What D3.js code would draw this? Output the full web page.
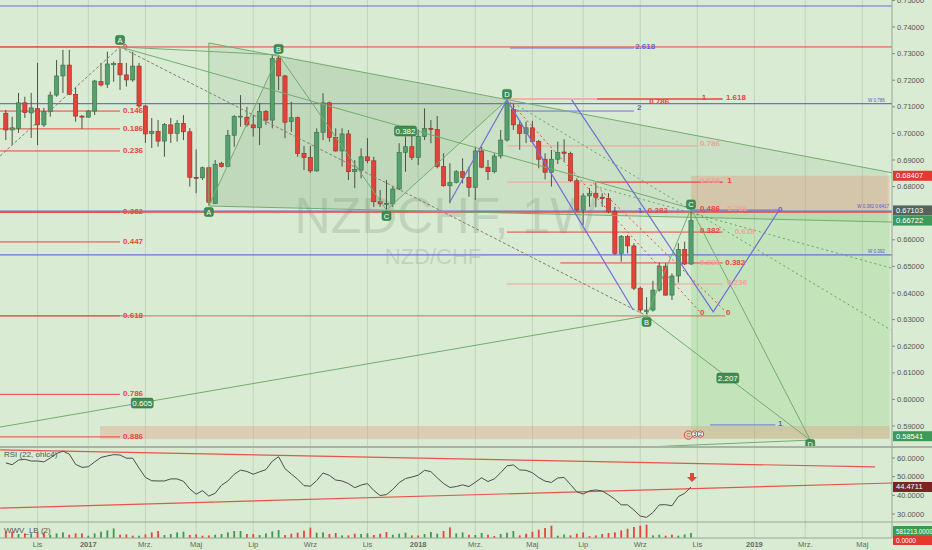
<!DOCTYPE html>
<html><head><meta charset="utf-8">
<script src="https://cdn.jsdelivr.net/npm/d3@7"></script>
<style>
body{margin:0;background:#d9ebd3;}
svg{display:block;font-family:"Liberation Sans",Arial,sans-serif;}
</style></head>
<body><svg id="c" width="932" height="550"></svg>
<script>
// ---------------- DATA (weekly NZD/CHF) ----------------
const firstBar = "2016-10-02"; // weekly bars, one per week
const open = [
0.7076,0.7013,0.7019,0.7115,0.7077,0.7093,0.7032,0.7082,0.7144,0.7216,
0.7257,0.7147,0.7065,0.7061,0.7084,0.7195,0.7185,0.7258,0.7263,0.7220,
0.7201,0.7253,0.7103,0.6999,0.7008,0.6971,0.7032,0.7000,0.7038,0.7006,
0.6835,0.6833,0.6871,0.6737,0.6888,0.6875,0.6993,0.7063,0.7061,0.7032,
0.7021,0.7082,0.7050,0.7281,0.7216,0.7044,0.7059,0.6925,0.6909,0.6859,
0.7004,0.7115,0.6985,0.6934,0.6998,0.6856,0.6862,0.6912,0.6897,0.6743,
0.6735,0.6735,0.6791,0.6929,0.6950,0.6910,0.6988,0.7019,0.7015,0.6875,
0.6803,0.6816,0.6856,0.6835,0.6797,0.6934,0.6873,0.6856,0.6915,0.6975,
0.7090,0.7032,0.7000,0.7021,0.6969,0.6903,0.6854,0.6903,0.6930,0.6925,
0.6822,0.6712,0.6765,0.6775,0.6760,0.6755,0.6706,0.6549,0.6612,0.6577,
0.6418,0.6330,0.6336,0.6411,0.6501,0.6392,0.6464,0.6564,0.6509];
const high = [
0.7088,0.7063,0.7152,0.7138,0.7152,0.7265,0.7096,0.7157,0.7276,0.7314,
0.7314,0.7171,0.7069,0.7088,0.7201,0.7265,0.7307,0.7270,0.7320,0.7265,
0.7307,0.7265,0.7107,0.7058,0.7050,0.7039,0.7058,0.7050,0.7069,0.7020,
0.6940,0.6875,0.6875,0.6900,0.6893,0.7013,0.7069,0.7144,0.7100,0.7069,
0.7114,0.7088,0.7295,0.7295,0.7220,0.7119,0.7063,0.6953,0.6953,0.7019,
0.7151,0.7119,0.7019,0.7019,0.7013,0.6900,0.6944,0.6982,0.6912,0.6787,
0.6825,0.6800,0.6963,0.6988,0.6994,0.7015,0.7094,0.7050,0.7065,0.6925,
0.6888,0.6862,0.6906,0.6875,0.6950,0.6950,0.6900,0.6925,0.7013,0.7122,
0.7113,0.7050,0.7044,0.7047,0.6975,0.6925,0.6938,0.6969,0.6978,0.6931,
0.6831,0.6775,0.6794,0.6815,0.6775,0.6775,0.6724,0.6618,0.6618,0.6587,
0.6424,0.6384,0.6446,0.6514,0.6512,0.6474,0.6587,0.6593,0.6706];
const low = [
0.6975,0.6956,0.7002,0.7058,0.6983,0.6956,0.7024,0.7063,0.7138,0.7152,
0.7144,0.7044,0.7017,0.7060,0.7069,0.7176,0.7171,0.7194,0.7163,0.7176,
0.7194,0.7096,0.6964,0.6945,0.6950,0.6912,0.6964,0.6969,0.6975,0.6800,
0.6775,0.6825,0.6731,0.6735,0.6872,0.6873,0.6950,0.7025,0.7025,0.6988,
0.6956,0.7032,0.7019,0.7163,0.6982,0.7006,0.6912,0.6862,0.6852,0.6856,
0.6975,0.6969,0.6931,0.6875,0.6825,0.6794,0.6831,0.6888,0.6724,0.6724,
0.6712,0.6724,0.6787,0.6856,0.6900,0.6881,0.6975,0.6963,0.6869,0.6800,
0.6737,0.6812,0.6812,0.6762,0.6750,0.6869,0.6825,0.6850,0.6906,0.6969,
0.7013,0.6938,0.6963,0.6963,0.6869,0.6827,0.6800,0.6885,0.6894,0.6818,
0.6706,0.6656,0.6724,0.6722,0.6724,0.6700,0.6543,0.6518,0.6549,0.6411,
0.6326,0.6321,0.6330,0.6405,0.6390,0.6374,0.6439,0.6505,0.6505];
const close = [
0.7013,0.7021,0.7115,0.7078,0.7096,0.7032,0.7082,0.7144,0.7216,0.7257,
0.7147,0.7065,0.7061,0.7084,0.7197,0.7182,0.7261,0.7263,0.7220,0.7201,
0.7253,0.7103,0.6998,0.7008,0.6971,0.7034,0.7000,0.7038,0.7006,0.6835,
0.6831,0.6871,0.6741,0.6884,0.6875,0.6993,0.7063,0.7065,0.7032,0.7021,
0.7082,0.7050,0.7281,0.7216,0.7042,0.7059,0.6925,0.6909,0.6859,0.7004,
0.7115,0.6985,0.6934,0.6998,0.6856,0.6865,0.6912,0.6897,0.6743,0.6735,
0.6737,0.6791,0.6929,0.6950,0.6910,0.6988,0.7019,0.7015,0.6875,0.6803,
0.6816,0.6856,0.6835,0.6797,0.6934,0.6873,0.6856,0.6915,0.6975,0.7113,
0.7032,0.7000,0.7021,0.6969,0.6903,0.6854,0.6903,0.6929,0.6925,0.6822,
0.6712,0.6765,0.6775,0.6760,0.6755,0.6706,0.6549,0.6612,0.6577,0.6418,
0.6336,0.6336,0.6411,0.6501,0.6392,0.6464,0.6564,0.6509,0.6672];
const rsi = [
57.4,56.4,58.9,59.3,58.4,58.4,57.9,60.0,62.4,63.7,
62.1,56.6,55.0,55.3,57.9,60.3,61.1,61.8,61.6,59.9,
59.9,54.6,49.6,47.8,47.7,47.7,48.8,48.8,47.5,43.4,
40.6,42.5,39.6,41.1,45.4,47.7,51.3,53.5,52.8,51.3,
52.6,53.8,58.3,60.7,54.3,51.4,48.6,45.2,44.9,47.9,
52.0,50.7,48.2,47.7,46.3,44.1,45.5,46.3,42.6,39.9,
40.4,43.2,46.8,49.0,49.8,50.8,53.4,52.7,49.4,46.3,
44.2,44.7,45.6,44.7,47.0,49.4,47.4,48.8,52.1,55.8,
56.3,53.6,53.4,52.1,49.5,47.6,46.9,49.3,49.6,45.8,
41.9,40.7,42.4,42.9,42.3,40.3,37.9,34.9,34.9,32.1,
28.9,28.2,30.8,34.9,35.0,34.4,39.3,41.1,44.4711];
// WWV_LB volume (thousands) and its colour per bar (r/g)
const volume = [
744,744,459,533,533,657,620,372,533,657,
372,533,533,248,533,744,905,1153,372,409,
248,248,409,657,831,335,459,657,744,335,
409,248,285,372,459,657,831,831,459,459,
335,533,781,955,335,496,620,868,1240,620,
657,459,583,285,285,496,459,533,335,496,
707,372,496,620,285,285,459,707,496,831,
1277,533,657,372,335,583,372,211,459,620,
831,285,496,744,992,1203,1488,248,409,285,
496,657,211,285,459,583,657,905,1116,1327,
1488,1612,285,372,248,372,248,409,581.213];
const volumeDir = "rrgrgrrgggrrrgggggrrrgrrrggggrrrrgggggrrggggrrrrrggrrgrrggrrrgggrrgggrrggrggrrgggrrrrrrggrrrrrrrrrrrrrggrrggg";

const tickDates  = ["2016-11-06","2017-01-01","2017-03-05","2017-04-30","2017-07-02","2017-09-03","2017-11-05","2017-12-31","2018-03-04","2018-05-06","2018-07-01","2018-09-02","2018-11-04","2019-01-06","2019-03-03","2019-05-05"];
const tickLabels = ["Lis","2017","Mrz.","Maj","Lip","Wrz","Lis","2018","Mrz.","Maj","Lip","Wrz","Lis","2019","Mrz.","Maj"];
const priceTicks = [0.59,0.60,0.61,0.62,0.63,0.64,0.65,0.66,0.68,0.69,0.70,0.71,0.72,0.73,0.74,0.75];
const rsiTicks = [30,40,50,60];

// Fibonacci retracement (left)
const leftFibLabels = ["0","0.146","0.186","0.236","0.382","0.447","0.618","0.786","0.886"];
const leftFibPrices = [0.7325,0.7084,0.7017,0.6934,0.6704,0.6592,0.6314,0.6019,0.5859];
// harmonic pattern points [bar index, price]
const X1=[-0.9,0.6915], A1=[18,0.7325], B1=[43,0.7295], A2=[32,0.6727], C1=[60,0.6712], D1=[79,0.7126];
const B2=[101,0.6314], C2=[108,0.6718], D2=[126.8,0.5847], X2=[-0.9,0.5896];
// short position tool
const entryPrice=0.67103, stopPrice=0.68407, targetPrice=0.58541, lastPrice=0.66722;

// ---------------- SCALES ----------------
const svg = d3.select("#c");
const PR = 892, MAINB = 447, RSIB = 522, VOLB = 538;
const DAY = 864e5;
const t0 = new Date(firstBar+"T00:00:00Z").getTime();
const barDate = i => new Date(t0 + i*7*DAY);
const x = d3.scaleTime().domain([new Date("2017-01-01T00:00:00Z"), new Date("2018-10-28T00:00:00Z")]).range([88.3, 691]);
const X = i => x(barDate(i));
const y = d3.scaleLinear().domain([0.75, 0.59]).range([0.4, 426]);
const yR = d3.scaleLinear().domain([60, 30]).range([458, 514]);
const yV = d3.scaleLinear().domain([0, 1950]).range([537.7, 522]);
const P = ([i,p]) => [X(i), y(p)];

const defs = svg.append("defs");
defs.append("clipPath").attr("id","cm").append("rect").attr("x",0).attr("y",0).attr("width",PR).attr("height",MAINB-1);
defs.append("clipPath").attr("id","cr").append("rect").attr("x",0).attr("y",MAINB+1).attr("width",PR).attr("height",RSIB-MAINB-1);
defs.append("clipPath").attr("id","cv").append("rect").attr("x",0).attr("y",RSIB+1).attr("width",PR).attr("height",VOLB-RSIB-1);

svg.append("rect").attr("width",932).attr("height",550).attr("fill","#d9ebd3");

// vertical grid
svg.append("g").selectAll("line").data(tickDates).join("line")
  .attr("x1",d=>x(new Date(d+"T00:00:00Z"))).attr("x2",d=>x(new Date(d+"T00:00:00Z")))
  .attr("y1",0).attr("y2",VOLB).attr("stroke","#c2d3be").attr("stroke-width",1);

const main = svg.append("g").attr("clip-path","url(#cm)");

// watermark
main.append("text").attr("x",446).attr("y",233).attr("text-anchor","middle")
  .attr("font-size",50).attr("fill","#8e9e8c").attr("opacity",0.3).text("NZDCHF, 1W");
main.append("text").attr("x",433).attr("y",264).attr("text-anchor","middle")
  .attr("font-size",22).attr("fill","#8e9e8c").attr("opacity",0.3).text("NZD/CHF");

const line = d3.line();
function seg(g, pts, stroke, w, dash, op){
  const p = g.append("path").attr("d", line(pts.map(P))).attr("fill","none")
    .attr("stroke",stroke).attr("stroke-width",w||1);
  if(dash) p.attr("stroke-dasharray",dash);
  if(op) p.attr("opacity",op);
  return p;
}
function poly(g, pts, fill){
  g.append("path").attr("d", line(pts.map(P))+"Z").attr("fill",fill).attr("stroke","none");
}

// wedge shading and ABCD triangles
poly(main, [[32,0.7340],[139,0.6855],[139,0.6667],A2], "rgba(70,130,60,0.09)");
poly(main, [A2,B1,C1], "rgba(70,130,60,0.08)");
poly(main, [B1,C1,D1], "rgba(70,130,60,0.08)");

// position tool zones
const pxEnd = 139.3;
main.append("rect").attr("x",X(108)).attr("width",X(pxEnd)-X(108))
  .attr("y",y(stopPrice)).attr("height",y(entryPrice)-y(stopPrice)).attr("fill","rgba(225,150,120,0.35)");
main.append("rect").attr("x",X(108)).attr("width",X(pxEnd)-X(108))
  .attr("y",y(entryPrice)).attr("height",y(targetPrice)-y(entryPrice)).attr("fill","rgba(110,195,95,0.2)");
// tan band
main.append("rect").attr("x",X(14.85)).attr("width",X(pxEnd)-X(14.85))
  .attr("y",y(0.5900)).attr("height",y(0.5851)-y(0.5900)).attr("fill","rgba(225,150,120,0.33)");

const RED="#e8463c", PINK="#f2a29a", BLUE="#6f6fd8", GREEN="#72ad6e", DASH="#8b7d6b";

// blue full-width lines
[0.7479,0.7112,0.6708,0.6543].forEach(p=>seg(main,[[-2,p],[141,p]],BLUE,1.2));
// red full-width extensions
seg(main,[[-2,0.7325],[141,0.7325]],RED,1);
seg(main,[[-2,0.6704],[141,0.6704]],RED,1.2);
seg(main,[[-2,0.6314],[113.4,0.6314]],RED,1,null,0.8);
// left fib
const lf = main.append("g");
leftFibPrices.forEach((p,k)=>{
  seg(lf,[[-2,p],[18,p]],RED,1);
  lf.append("text").attr("x",X(18)+3).attr("y",y(p)+2).attr("font-size",8).attr("font-weight","bold")
    .attr("fill",RED).text(leftFibLabels[k]);
});

// right side fib lines
const rf = main.append("g");
seg(rf,[[79,0.7129],[93.2,0.7129]],PINK,1.5);
seg(rf,[[93.2,0.7129],[113,0.7129]],RED,1.5);
seg(rf,[[79.5,0.7321],[99,0.7321]],BLUE,1);
seg(rf,[[80,0.7084],[99,0.7084]],BLUE,1);
seg(rf,[[79,0.6953],[109,0.6953]],PINK,1);
seg(rf,[[79,0.6817],[93.2,0.6817]],PINK,1);
seg(rf,[[93.2,0.6817],[113,0.6817]],RED,1.2);
seg(rf,[[79,0.6629],[113,0.6629]],RED,1);
seg(rf,[[87.4,0.6513],[113,0.6513]],RED,1);
seg(rf,[[79,0.6434],[113,0.6434]],PINK,1);
seg(rf,[[111,0.5904],[121.3,0.5904]],BLUE,1);

// candles
const cg = main.append("g");
open.forEach((o,i)=>{
  const up = close[i] >= o, cx = X(i);
  cg.append("line").attr("x1",cx).attr("x2",cx).attr("y1",y(high[i])).attr("y2",y(low[i]))
    .attr("stroke","#4e5148").attr("stroke-width",1);
  const t = y(Math.max(o,close[i])), b = y(Math.min(o,close[i]));
  cg.append("rect").attr("x",cx-2.1).attr("width",4.2).attr("y",t).attr("height",Math.max(1,b-t))
    .attr("fill", up ? "#55a06c" : "#e2443a").attr("stroke", up ? "#36704a" : "#9a2c22").attr("stroke-width",0.6);
});

// pattern lines
const pg = main.append("g");
seg(pg,[X1,A1],DASH,1,"3,2");
seg(pg,[A1,B2],DASH,1,"3,2");
seg(pg,[A1,B1],GREEN,1);
seg(pg,[A1,C2],GREEN,1);
seg(pg,[A2,B1,C1,D1],GREEN,1);
seg(pg,[[32,0.7340],[141,0.6846]],GREEN,1);
seg(pg,[A2,[141,0.6666]],GREEN,1);
seg(pg,[[32,0.7340],A2],GREEN,1);
seg(pg,[C2,B2],GREEN,1);
seg(pg,[B2,D2],GREEN,1);
seg(pg,[C2,D2],GREEN,1);
seg(pg,[X2,B2],GREEN,1);
seg(pg,[[70,0.5790],D2],GREEN,1);
// blue zigzag
seg(pg,[[70,0.6742],D1,[98.9,0.6336]],BLUE,1.2);
seg(pg,[[89.2,0.7126],[111.5,0.6329],[121.9,0.6712]],BLUE,1.2);
seg(pg,[[108,0.6712],[121.9,0.6712]],BLUE,1.2);
// dotted guides
seg(pg,[[79.5,0.7118],[109.4,0.6329]],RED,1,"2,3");
seg(pg,[[92.6,0.6814],[113.7,0.6325]],RED,1,"2,3");
seg(pg,[[80,0.7114],[139.5,0.6261]],"#5fa85f",1,"2,3");
seg(pg,[[92.1,0.6806],[139.5,0.6494]],"#5fa85f",1,"2,3");

// text labels on the right pattern
const labels = [
 ["0.786",101.4,0.7122,RED],["1",109.7,0.7137,RED],["1.618",113.5,0.7137,RED],
 ["2.618",99.2,0.7329,"#6a5fc8"],["2",99.5,0.7099,"#6a5fc8"],
 ["0.786",109.4,0.6964,PINK],["0.618",109.4,0.6825,PINK],["1",113.7,0.6825,RED],
 ["1",99.6,0.6712,"#6a5fc8"],["0.382",101.2,0.6712,RED],["0.486",109.4,0.6719,RED],["0.786",113.7,0.6719,PINK],
 ["0.382",109.4,0.6637,RED],["0.618",114.9,0.6634,PINK],
 ["0.236",109.4,0.6517,PINK],["0.382",113.4,0.6517,RED],
 ["0.236",113.7,0.6441,PINK],["0",109.4,0.6329,RED],["0",113.5,0.6327,RED],
 ["0",121.7,0.6716,"#6a5fc8"],["1",121.7,0.5911,"#6a5fc8"]
];
labels.forEach(([t,i,p,c])=>main.append("text").attr("x",X(i)).attr("y",y(p)+3)
  .attr("font-size",8).attr("font-weight","bold").attr("fill",c).text(t));
[["W 0.786",135.9,0.7118],["W 0.382  0.6417",134.2,0.6718],["W 0.392",135.9,0.6550]].forEach(([t,i,p])=>
  main.append("text").attr("x",X(i)).attr("y",y(p)).attr("font-size",4.5).attr("fill","#5a5ad0").text(t));

// ratio badges
function badge(t, i, p, w){
  const cx = X(i), cy = y(p);
  main.append("rect").attr("x",cx-w/2).attr("y",cy-5).attr("width",w).attr("height",10).attr("rx",2)
    .attr("fill","#3f8d4f").attr("stroke","#2d6b3a").attr("stroke-width",0.5);
  main.append("text").attr("x",cx).attr("y",cy+3).attr("text-anchor","middle").attr("font-size",8)
    .attr("fill","#fff").text(t);
}
badge("0.382",63,0.7009,22); badge("0.605",21.5,0.5986,22); badge("2.207",113.8,0.6080,22);
// point letters
function letter(t, pt, dy){
  const cx = X(pt[0]), cy = y(pt[1])+dy;
  main.append("rect").attr("x",cx-4.5).attr("y",cy-4.5).attr("width",9).attr("height",9).attr("rx",2)
    .attr("fill","#3f8d4f").attr("stroke","#2d6b3a").attr("stroke-width",0.5);
  main.append("text").attr("x",cx).attr("y",cy+3).attr("text-anchor","middle").attr("font-size",7.5)
    .attr("fill","#fff").text(t);
}
letter("A",A1,-7); letter("A",A2,6); letter("B",B1,-6); letter("C",C1,6); letter("D",D1,-6);
letter("B",B2,6); letter("C",C2,-4); letter("D",D2,4);
// event icons
[[107.6,"#e3453b","C"],[108.6,"#fff","3"],[109.5,"#fff","2"]].forEach(([i,c,t],k)=>{
  main.append("circle").attr("cx",X(i)).attr("cy",y(0.5866)-(k?1:0)).attr("r",k?3.2:4.2)
    .attr("fill",k?"#f4f4f4":"none").attr("stroke",k?"#c05050":"#e3453b").attr("stroke-width",1);
  main.append("text").attr("x",X(i)).attr("y",y(0.5866)+2.2-(k?1:0)).attr("text-anchor","middle")
    .attr("font-size",5.5).attr("fill",k?"#333":"#e3453b").text(t);
});

// pane separators
svg.append("line").attr("x1",0).attr("x2",932).attr("y1",MAINB).attr("y2",MAINB).attr("stroke","#a7b3a4").attr("stroke-width",2);
svg.append("line").attr("x1",0).attr("x2",932).attr("y1",RSIB).attr("y2",RSIB).attr("stroke","#9aa597").attr("stroke-width",1);
svg.append("line").attr("x1",0).attr("x2",PR).attr("y1",VOLB).attr("y2",VOLB).attr("stroke","#9aa597").attr("stroke-width",1);
svg.append("line").attr("x1",PR).attr("x2",PR).attr("y1",0).attr("y2",VOLB).attr("stroke","#9aa597").attr("stroke-width",1);

// RSI pane
const rg = svg.append("g").attr("clip-path","url(#cr)");
const PR_ = ([i,r])=>[X(i), yR(r)];
rg.append("path").attr("d",line([[-0.9,64.3],[137,55.2]].map(PR_))).attr("stroke","#e8544a").attr("stroke-width",1.2).attr("fill","none");
rg.append("path").attr("d",line([[-0.9,33.2],[139.7,46.6]].map(PR_))).attr("stroke","#e8544a").attr("stroke-width",1.2).attr("fill","none");
rg.append("path").attr("d",d3.line().x((d,i)=>X(i)).y(d=>yR(d))(rsi)).attr("fill","none").attr("stroke","#4d4d4d").attr("stroke-width",1);
// red arrow
{ const ax = X(108)+1, ay = yR(rsi[108]) - 9;
  rg.append("path").attr("d",`M${ax-2},${ay-5}h4v4h3l-5,5l-5,-5h3z`).attr("fill","#e3453b"); }
svg.append("text").attr("x",4).attr("y",457).attr("font-size",8).attr("fill","#555").text("RSI (22, ohlc4)");

// Volume pane
const vg = svg.append("g").attr("clip-path","url(#cv)");
volume.forEach((v,i)=>{
  vg.append("rect").attr("x",X(i)-0.9).attr("width",1.8).attr("y",yV(v)).attr("height",yV(0)-yV(v))
    .attr("fill", volumeDir[i]==="g" ? "#3f9a4f" : "#e8453b");
});
svg.append("text").attr("x",4).attr("y",533).attr("font-size",8).attr("fill","#555").text("WWV_LB (2)");

// right axis
const ax = svg.append("g");
priceTicks.forEach(p=>{
  ax.append("line").attr("x1",PR).attr("x2",PR+3).attr("y1",y(p)).attr("y2",y(p)).attr("stroke","#888");
  ax.append("text").attr("x",PR+5).attr("y",y(p)+2.5).attr("font-size",7.5).attr("fill","#555").text(d3.format(".5f")(p));
});
rsiTicks.forEach(r=>{
  ax.append("line").attr("x1",PR).attr("x2",PR+3).attr("y1",yR(r)).attr("y2",yR(r)).attr("stroke","#888");
  ax.append("text").attr("x",PR+5).attr("y",yR(r)+2.5).attr("font-size",7.5).attr("fill","#555").text(d3.format(".4f")(r));
});
function tag(t, cy, bg, fs){
  ax.append("rect").attr("x",PR+1).attr("y",cy-5).attr("width",39).attr("height",10).attr("fill",bg);
  ax.append("text").attr("x",PR+4).attr("y",cy+2.5).attr("font-size",fs||7.5).attr("fill","#fff").text(t);
}
tag(d3.format(".5f")(stopPrice), y(stopPrice), "#e5392f");
tag(d3.format(".5f")(entryPrice), y(entryPrice), "#56625a");
tag(d3.format(".5f")(lastPrice), y(lastPrice), "#3f9a5a");
tag(d3.format(".5f")(targetPrice), y(targetPrice)-2, "#3f9a5a");
tag(d3.format(".4f")(rsi[108]), yR(rsi[108]), "#7a2424");
tag("0.0000", 540, "#e5392f", 6.5);
tag(d3.format(".4f")(volume[108]*1000), 531, "#3f9a4f", 6.3);

// time axis labels
tickDates.forEach((d,k)=>{
  const isYear = /^\d{4}$/.test(tickLabels[k]);
  svg.append("text").attr("x",x(new Date(d+"T00:00:00Z"))).attr("y",547).attr("text-anchor","middle")
    .attr("font-size",7.5).attr("font-weight",isYear?"bold":"normal").attr("fill","#666").text(tickLabels[k]);
});
</script></body></html>
